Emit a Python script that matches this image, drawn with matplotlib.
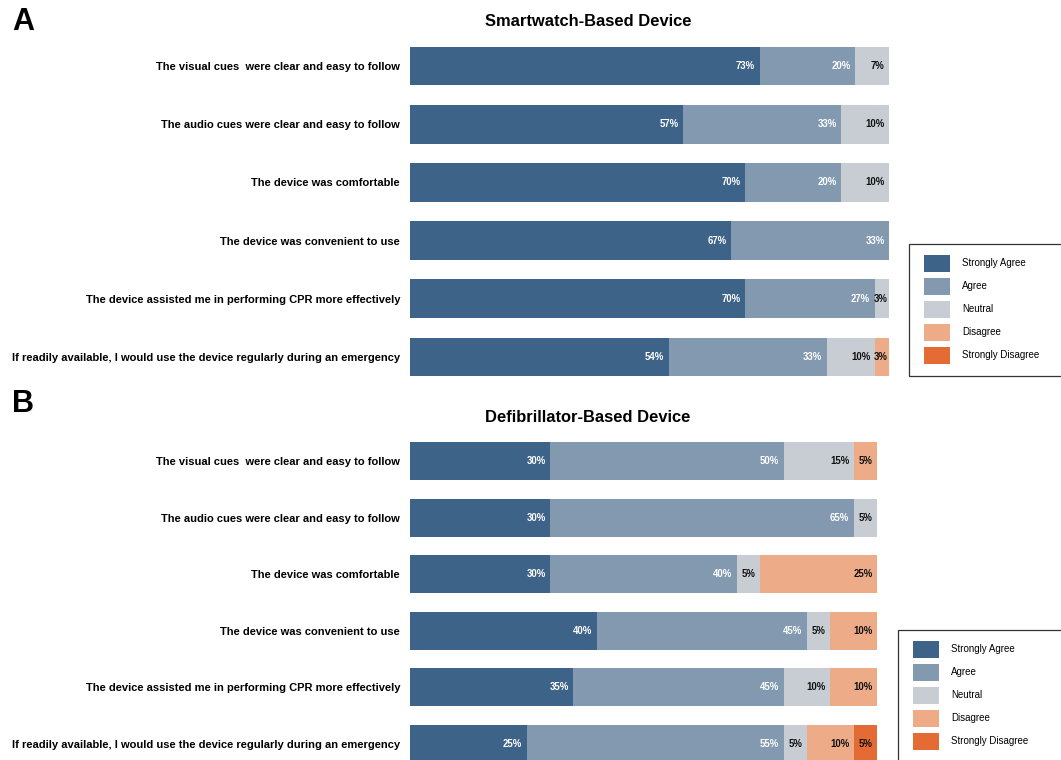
import matplotlib
matplotlib.use("Agg")
import matplotlib.pyplot as plt
from matplotlib.patches import Patch, Rectangle
import numpy as np

plt.rcParams['font.family'] = ['Liberation Sans', 'DejaVu Sans']

statements = [
    "The visual cues  were clear and easy to follow",
    "The audio cues were clear and easy to follow",
    "The device was comfortable",
    "The device was convenient to use",
    "The device assisted me in performing CPR more effectively",
    "If readily available, I would use the device regularly during an emergency",
]
levels = ["Strongly Agree", "Agree", "Neutral", "Disagree", "Strongly Disagree"]
colors = ["#3e6389", "#8299b0", "#c8cdd3", "#edab88", "#e46c34"]
text_colors = ["white", "white", "#111111", "#111111", "#111111"]

# Panel A: Smartwatch-Based Device (percent per level, rows = statements)
smart_sa = [73, 57, 70, 67, 70, 54]
smart_a = [20, 33, 20, 33, 27, 33]
smart_n = [7, 10, 10, 0, 3, 10]
smart_d = [0, 0, 0, 0, 0, 3]
smart_sd = [0, 0, 0, 0, 0, 0]

# Panel B: Defibrillator-Based Device
defib_sa = [30, 30, 30, 40, 35, 25]
defib_a = [50, 65, 40, 45, 45, 55]
defib_n = [15, 5, 5, 5, 10, 5]
defib_d = [5, 0, 25, 10, 10, 10]
defib_sd = [0, 0, 0, 0, 0, 5]

W, H = 1061, 760
fig = plt.figure(figsize=(W / 100, H / 100), dpi=100)


def px_axes(x0, y_top, x1, y_bot):
    return fig.add_axes([x0 / W, 1 - y_bot / H, (x1 - x0) / W, (y_bot - y_top) / H])


def draw_panel(ax, series, ylim_bottom, bar_h):
    y = np.arange(len(statements))
    left = np.zeros(len(statements))
    for vals, col, tcol in zip(series, colors, text_colors):
        vals = np.array(vals, dtype=float)
        ax.barh(y, vals, left=left, height=bar_h, color=col, edgecolor='none')
        for yi, (l, v) in enumerate(zip(left, vals)):
            if v > 0:
                off = -3.2 if v >= 5 else -0.8
                ax.annotate(f"{int(v)}%", xy=(l + v, yi), xytext=(off, 0),
                            textcoords='offset points', ha='right', va='center',
                            fontsize=6.9, fontweight='bold', color=tcol)
        left += vals
    ax.set_xlim(0, 100)
    ax.set_ylim(ylim_bottom, -0.5)
    ax.set_yticks(y)
    ax.set_yticklabels(statements, fontsize=8.0, fontweight='bold')
    ax.tick_params(axis='y', length=0, pad=7.2)
    ax.set_xticks([])
    for s in ax.spines.values():
        s.set_visible(False)


# Panel A axes: centers 66..357 px, spacing ~58.2
spA = 58.2
axA = px_axes(410, 66 - spA / 2, 889, 357 + spA / 2)
draw_panel(axA, [smart_sa, smart_a, smart_n, smart_d, smart_sd], 5.5, 0.67)

# Panel B axes: centers 461..744 px, spacing ~56.6
spB = 56.6
topB = 461 - spB / 2
axB = px_axes(410, topB, 877, 760)
draw_panel(axB, [defib_sa, defib_a, defib_n, defib_d, defib_sd],
           -0.5 + (760 - topB) / spB, 0.67)

fig.text(588 / W, 1 - 21 / H, "Smartwatch-Based Device", ha='center', va='center',
         fontsize=11.9, fontweight='bold')
fig.text(588 / W, 1 - 417 / H, "Defibrillator-Based Device", ha='center', va='center',
         fontsize=11.9, fontweight='bold')
fig.text(12 / W, 1 - 22 / H, "A", ha='left', va='center', fontsize=22, fontweight='bold')
fig.text(12 / W, 1 - 404 / H, "B", ha='left', va='center', fontsize=22, fontweight='bold')

handles = [Patch(facecolor=c, edgecolor='none', label=l) for c, l in zip(colors, levels)]


def add_legend(box, patch_x, first_y):
    x0, y0, x1, y1 = box
    fig.patches.append(Rectangle((x0 / W, 1 - y1 / H), (x1 - x0) / W, (y1 - y0) / H,
                                 transform=fig.transFigure, facecolor='white',
                                 edgecolor='#333333', linewidth=0.9, zorder=1))
    fs = 7.0
    em = fs * 100 / 72
    hh = 2.315
    leg = fig.legend(handles=handles, loc='upper left',
                     bbox_to_anchor=(patch_x / W, 1 - (first_y - 8.5) / H),
                     bbox_transform=fig.transFigure,
                     frameon=False, fontsize=fs, handlelength=26 / em,
                     handleheight=hh, labelspacing=6 / em,
                     handletextpad=12 / em, borderpad=0, borderaxespad=0)
    leg.set_zorder(2)
    return leg


add_legend((909, 244, 1061.5, 376), 924, 263)
add_legend((898, 630, 1061.5, 761), 913, 649)

fig.savefig("out.png", dpi=100)
